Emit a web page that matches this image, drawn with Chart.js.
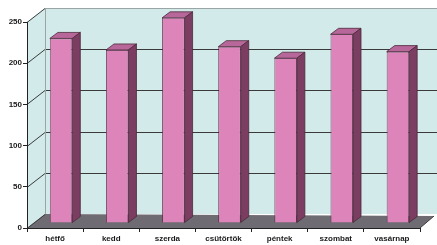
<!DOCTYPE html>
<html>
<head>
<meta charset="utf-8">
<script src="https://cdn.jsdelivr.net/npm/chart.js@4/dist/chart.umd.min.js"></script>
<style>
  html, body { margin: 0; padding: 0; background: #ffffff; }
  #wrap { width: 437px; height: 245px; position: relative; }
</style>
</head>
<body>
<div id="wrap"><canvas id="chart"></canvas></div>
<script>
const days = ["hétfő", "kedd", "szerda", "csütörtök", "péntek", "szombat", "vasárnap"];
const visits = [224, 210, 249, 214, 200, 229, 208];
const yTicks = [0, 50, 100, 150, 200, 250];

// depth of the box (back wall) and of the columns
const wallDx = 18, wallDy = 14;
const barShiftX = 6, barShiftY = 5;
const barDx = 8, barDy = 6;

const box3d = {
  id: "box3d",
  beforeDraw(chart) {
    const ctx = chart.ctx;
    const { left, right, top, bottom } = chart.chartArea;
    const y = chart.scales.y;

    ctx.save();
    // side wall + back wall
    ctx.fillStyle = "#d3eaea";
    ctx.beginPath();
    ctx.moveTo(left, bottom);
    ctx.lineTo(left, top);
    ctx.lineTo(left + wallDx, top - wallDy);
    ctx.lineTo(chart.width, top - wallDy);
    ctx.lineTo(chart.width, bottom - wallDy);
    ctx.lineTo(left + wallDx, bottom - wallDy);
    ctx.closePath();
    ctx.fill();

    // floor
    ctx.fillStyle = "#6e6b72";
    ctx.beginPath();
    ctx.moveTo(left, bottom);
    ctx.lineTo(right, bottom);
    ctx.lineTo(right + wallDx - 4, bottom - wallDy + 2);
    ctx.lineTo(left + wallDx, bottom - wallDy);
    ctx.closePath();
    ctx.fill();

    // grid lines on side and back wall
    ctx.strokeStyle = "#3a3a3a";
    ctx.lineWidth = 1;
    yTicks.forEach(v => {
      const py = Math.round(y.getPixelForValue(v)) + 0.5;
      ctx.beginPath();
      ctx.moveTo(left, py);
      ctx.lineTo(left + wallDx, py - wallDy);
      if (v > 0 && v < 250) ctx.lineTo(chart.width, py - wallDy);
      ctx.stroke();
    });
    // top edge of the back wall, lighter
    ctx.strokeStyle = "#9aa5a5";
    ctx.beginPath();
    ctx.moveTo(left + wallDx, top - wallDy + 0.5);
    ctx.lineTo(chart.width, top - wallDy + 0.5);
    ctx.moveTo(left + wallDx + 0.5, top - wallDy);
    ctx.lineTo(left + wallDx + 0.5, bottom - wallDy);
    ctx.stroke();
    ctx.strokeStyle = "#3a3a3a";
    ctx.beginPath();
    ctx.moveTo(right, bottom);
    ctx.lineTo(right + wallDx - 4, bottom - wallDy + 2);
    ctx.stroke();
    ctx.restore();
  },
  beforeDatasetsDraw(chart) {
    chart.ctx.save();
    chart.ctx.translate(barShiftX, -barShiftY);
  },
  afterDatasetsDraw(chart) {
    const ctx = chart.ctx;
    const meta = chart.getDatasetMeta(0);
    meta.data.forEach(bar => {
      const p = bar.getProps(["x", "y", "base", "width"], true);
      const l = p.x - p.width / 2, r = p.x + p.width / 2;
      // top cap
      ctx.fillStyle = "#b8679a";
      ctx.beginPath();
      ctx.moveTo(l, p.y);
      ctx.lineTo(r, p.y);
      ctx.lineTo(r + barDx, p.y - barDy);
      ctx.lineTo(l + barDx, p.y - barDy);
      ctx.closePath();
      ctx.fill();
      ctx.strokeStyle = "#4a2a3a";
      ctx.lineWidth = 0.8;
      ctx.stroke();
      // side face
      ctx.fillStyle = "#7c3d62";
      ctx.beginPath();
      ctx.moveTo(r, p.y);
      ctx.lineTo(r + barDx, p.y - barDy);
      ctx.lineTo(r + barDx, p.base - barDy);
      ctx.lineTo(r, p.base);
      ctx.closePath();
      ctx.fill();
      ctx.stroke();
    });
    ctx.restore();
  }
};

new Chart(document.getElementById("chart"), {
  type: "bar",
  data: {
    labels: days,
    datasets: [{
      data: visits,
      backgroundColor: "#dd84bb",
      borderColor: "#4a2a3a",
      borderWidth: 0.8,
      barPercentage: 0.4,
      categoryPercentage: 1,
      clip: false
    }]
  },
  options: {
    responsive: true,
    maintainAspectRatio: false,
    animation: false,
    layout: { padding: { top: 22, right: 17, left: 0, bottom: 0 } },
    plugins: {
      legend: { display: false },
      tooltip: { enabled: false }
    },
    scales: {
      x: {
        grid: {
          drawOnChartArea: false,
          tickLength: 4,
          color: "#222"
        },
        border: { color: "#222" },
        ticks: {
          color: "#1a1a1a",
          padding: 2,
          maxRotation: 0,
          font: { family: "Liberation Sans", size: 8, weight: "bold" }
        },
        afterFit(scale) { scale.height = 17; }
      },
      y: {
        min: 0,
        max: 250,
        ticks: {
          stepSize: 50,
          color: "#1a1a1a",
          padding: 1,
          font: { family: "Liberation Sans", size: 8, weight: "bold" }
        },
        grid: {
          drawOnChartArea: false,
          tickLength: 4,
          color: "#222"
        },
        border: { color: "#222" },
        afterFit(scale) { scale.width = 27; }
      }
    }
  },
  plugins: [box3d]
});
</script>
</body>
</html>
